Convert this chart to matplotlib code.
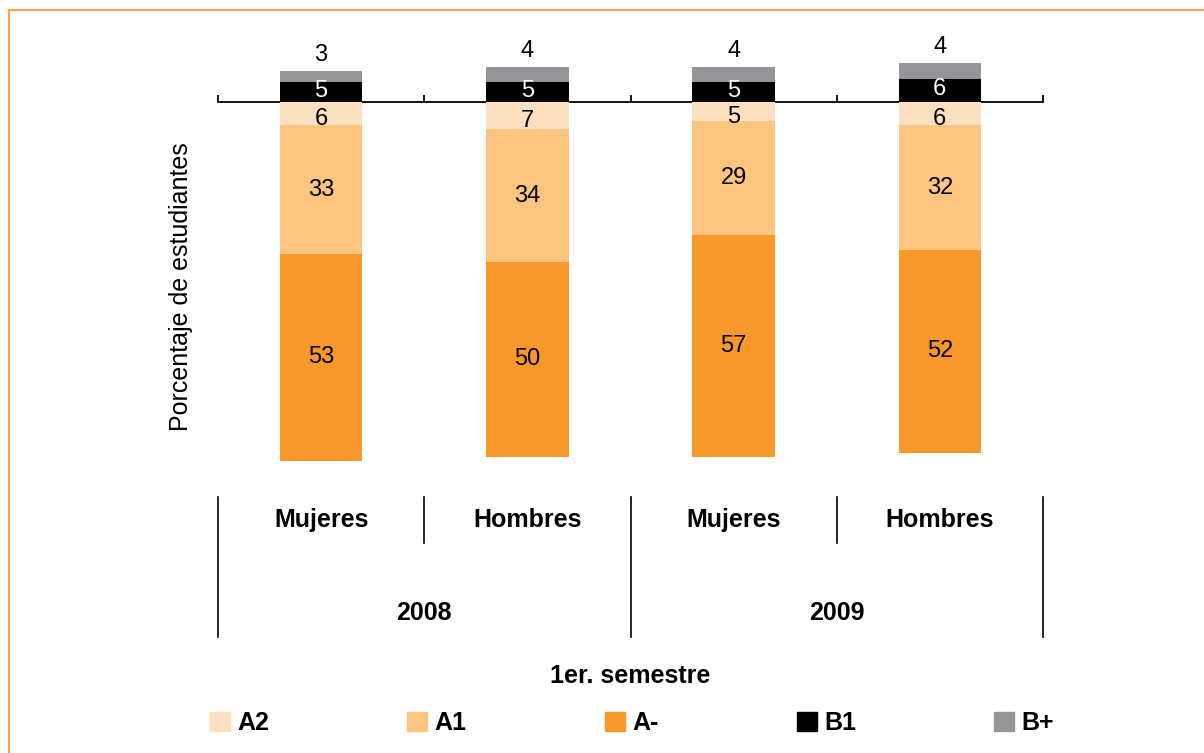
import matplotlib.pyplot as plt
from matplotlib.lines import Line2D
from matplotlib.patches import Patch
from matplotlib.transforms import blended_transform_factory

plt.rcParams['font.family'] = ['Liberation Sans', 'DejaVu Sans']

# data
groups = ['Mujeres', 'Hombres', 'Mujeres', 'Hombres']
years = ['2008', '2009']
a2 = [6, 7, 5, 6]
a1 = [33, 34, 29, 32]
a_minus = [53, 50, 57, 52]
b1 = [5, 5, 5, 6]
b_plus = [3, 4, 4, 4]

c_a2 = '#fde0bf'
c_a1 = '#fbc47f'
c_am = '#f8982a'
c_b1 = '#000000'
c_bp = '#939598'

W, H = 1204, 753
fig = plt.figure(figsize=(W / 100, H / 100), dpi=100)


def fx(px):
    return px / W


def fy(py):
    return 1 - py / H


ax = fig.add_axes([fx(218), fy(470), fx(1043) - fx(218), fy(40) - fy(470)])
ax.set_xlim(-0.5, 3.5)
ax.set_ylim(-94.4, 15.9)

x = list(range(len(groups)))
bw = 0.4

# negative side: A2 next to zero, then A1, then A-
neg1 = [-v for v in a2]
neg2 = [-(p + q) for p, q in zip(a2, a1)]
ax.bar(x, neg1, bw, color=c_a2, zorder=3)
ax.bar(x, [-v for v in a1], bw, bottom=neg1, color=c_a1, zorder=3)
ax.bar(x, [-v for v in a_minus], bw, bottom=neg2, color=c_am, zorder=3)
# positive side
ax.bar(x, b1, bw, color=c_b1, zorder=3)
ax.bar(x, b_plus, bw, bottom=b1, color=c_bp, zorder=3)

fs = 17
for i in x:
    ax.text(i, -a2[i] / 2 - 1.3, str(a2[i]), ha='center', va='center', fontsize=fs, zorder=4)
    ax.text(i, -a2[i] - a1[i] / 2, str(a1[i]), ha='center', va='center', fontsize=fs, zorder=4)
    ax.text(i, -a2[i] - a1[i] - a_minus[i] / 2, str(a_minus[i]), ha='center', va='center',
            fontsize=fs, zorder=4)
    ax.text(i, b1[i] / 2 + 0.3, str(b1[i]), ha='center', va='center', fontsize=fs, color='white',
            zorder=4)
    ax.text(i, b1[i] + b_plus[i] + 4, str(b_plus[i]), ha='center', va='center', fontsize=fs, zorder=4)

for s in ['top', 'right', 'left']:
    ax.spines[s].set_visible(False)
ax.spines['bottom'].set_position(('data', 0))
ax.spines['bottom'].set_linewidth(1.3)
ax.set_yticks([])
ax.set_xticks([-0.5, 0.5, 1.5, 2.5, 3.5])
ax.set_xticklabels([])
ax.tick_params(axis='x', direction='in', length=5, width=1.3)
ax.patch.set_visible(False)

# category table below the plot
tr = blended_transform_factory(ax.transData, fig.transFigure)
for xb in [-0.5, 1.5, 3.5]:
    ax.plot([xb, xb], [fy(497), fy(637)], color='black', lw=1.2, transform=tr, clip_on=False)
for xb in [0.5, 2.5]:
    ax.plot([xb, xb], [fy(497), fy(543)], color='black', lw=1.2, transform=tr, clip_on=False)
for i, g in enumerate(groups):
    ax.text(i, fy(520), g, ha='center', va='center', fontsize=18, fontweight='bold', transform=tr)
for j, yr in enumerate(years):
    ax.text(2 * j + 0.5, fy(613), yr, ha='center', va='center', fontsize=18, fontweight='bold',
            transform=tr)
ax.text(1.5, fy(676), '1er. semestre', ha='center', va='center', fontsize=18, fontweight='bold',
        transform=tr)

fig.text(fx(181), fy(287), 'Porcentaje de estudiantes', rotation=90, ha='center', va='center',
         fontsize=18)

# legend
handles = [Patch(color=c) for c in [c_a2, c_a1, c_am, c_b1, c_bp]]
labels = ['A2', 'A1', 'A-', 'B1', 'B+']
fig.legend(handles, labels, ncol=5, mode='expand', frameon=False,
           bbox_to_anchor=(fx(210), fy(741), fx(1054) - fx(210), fy(705) - fy(741)),
           loc='center', borderpad=0, borderaxespad=0, handlelength=0.8, handleheight=0.8,
           handletextpad=0.3, prop={'size': 18, 'weight': 'bold'})

# orange frame
fig.add_artist(Line2D([fx(9), 1], [fy(10), fy(10)], color='#f9a449', lw=1.5))
fig.add_artist(Line2D([fx(9), fx(9)], [0, fy(10)], color='#f9a449', lw=1.5))

fig.savefig('out.png', dpi=100)
